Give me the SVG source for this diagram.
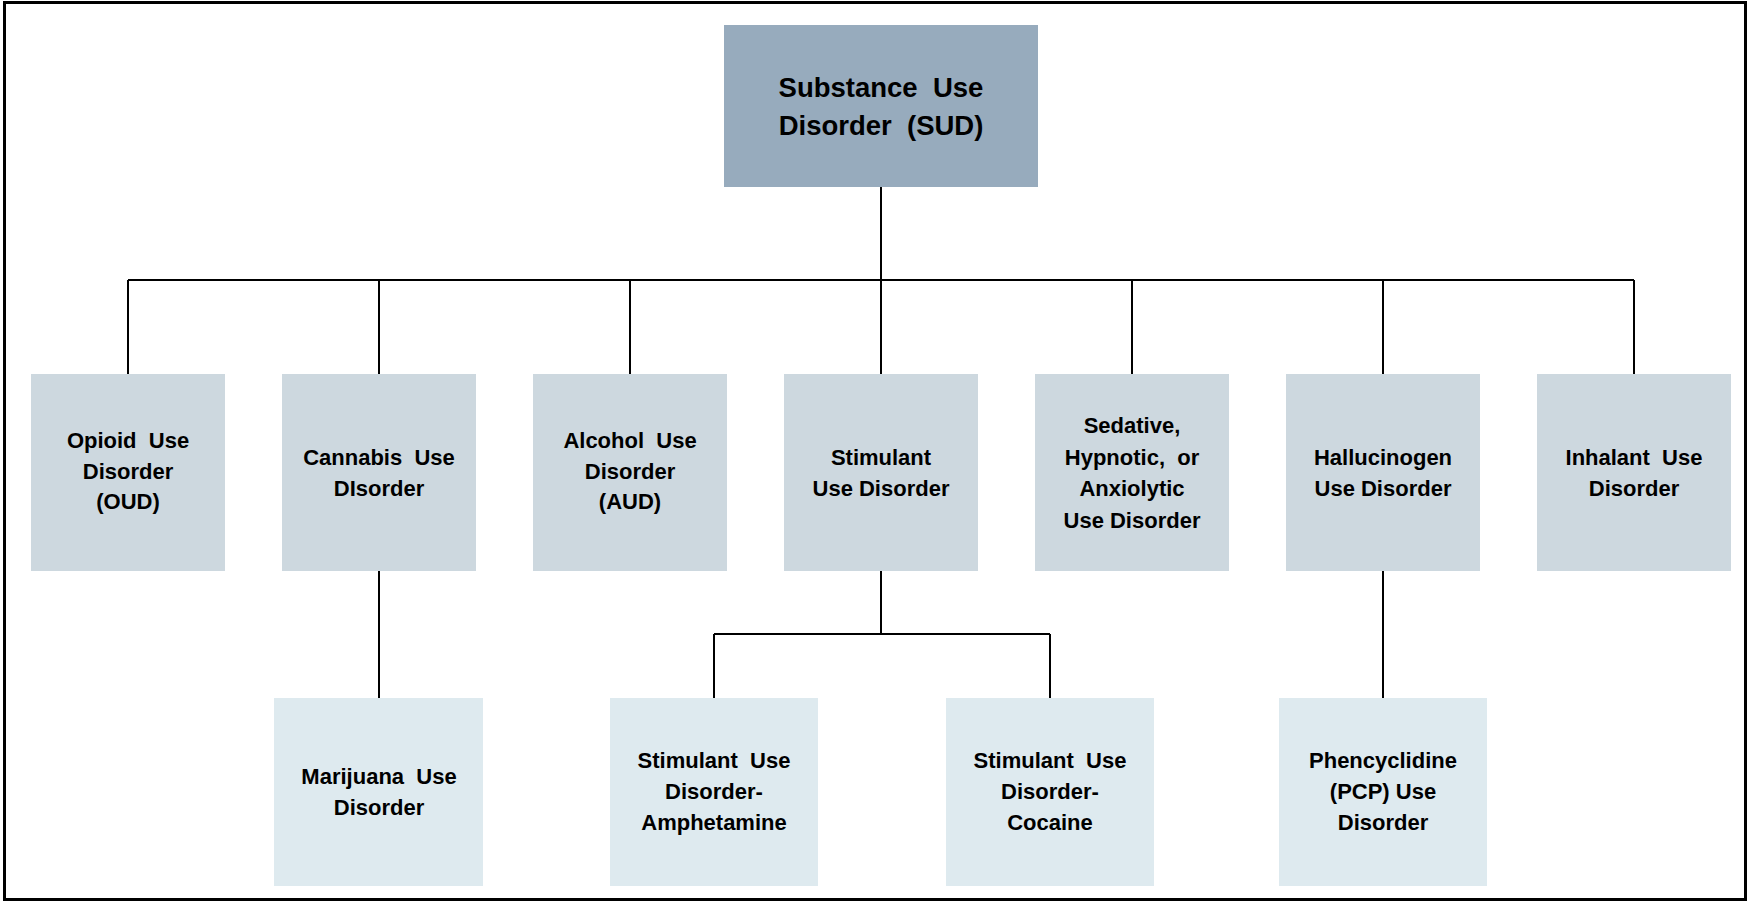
<svg xmlns="http://www.w3.org/2000/svg" width="1748" height="901" viewBox="0 0 1748 901">
<style>
.t{font-family:"Liberation Sans",Arial,sans-serif;font-weight:bold;fill:#000;text-anchor:middle;white-space:pre}
.l1{font-size:22px}
.top{font-size:27.5px}
.b0{fill:#97abbd}
.b1{fill:#cdd8df}
.b2{fill:#deeaef}
.c{stroke:#000;stroke-width:2;fill:none}
</style>
<rect x="0" y="0" width="1748" height="901" fill="#fff"/>
<rect x="4.5" y="2.5" width="1741" height="897" fill="none" stroke="#000" stroke-width="3"/>
<g id="connectors">
<path class="c" d="M881 187V280M128 280H1634M128 280V374M379 280V374M630 280V374M881 280V374M1132 280V374M1383 280V374M1634 280V374"/>
<path class="c" d="M379 571V698M1383 571V698M881 571V634M714 634H1050M714 634V698M1050 634V698"/>
</g>
<g id="sud"><rect class="b0" x="724" y="25" width="314" height="162"/>
<text class="t top" x="881" y="97"><tspan x="881">Substance  Use</tspan><tspan x="881" dy="38">Disorder  (SUD)</tspan></text></g>
<g id="oud"><rect class="b1" x="31" y="374" width="194" height="197"/>
<text class="t l1" x="128" y="448"><tspan x="128">Opioid  Use</tspan><tspan x="128" dy="30.5">Disorder</tspan><tspan x="128" dy="30.5">(OUD)</tspan></text></g>
<g id="cannabis"><rect class="b1" x="282" y="374" width="194" height="197"/>
<text class="t l1" x="379" y="465"><tspan x="379">Cannabis  Use</tspan><tspan x="379" dy="31">DIsorder</tspan></text></g>
<g id="aud"><rect class="b1" x="533" y="374" width="194" height="197"/>
<text class="t l1" x="630" y="448"><tspan x="630">Alcohol  Use</tspan><tspan x="630" dy="30.5">Disorder</tspan><tspan x="630" dy="30.5">(AUD)</tspan></text></g>
<g id="stimulant"><rect class="b1" x="784" y="374" width="194" height="197"/>
<text class="t l1" x="881" y="465"><tspan x="881">Stimulant</tspan><tspan x="881" dy="31">Use Disorder</tspan></text></g>
<g id="sedative"><rect class="b1" x="1035" y="374" width="194" height="197"/>
<text class="t l1" x="1132" y="433"><tspan x="1132">Sedative,</tspan><tspan x="1132" dy="31.5">Hypnotic,  or</tspan><tspan x="1132" dy="31.5">Anxiolytic</tspan><tspan x="1132" dy="31.5">Use Disorder</tspan></text></g>
<g id="hallucinogen"><rect class="b1" x="1286" y="374" width="194" height="197"/>
<text class="t l1" x="1383" y="465"><tspan x="1383">Hallucinogen</tspan><tspan x="1383" dy="31">Use Disorder</tspan></text></g>
<g id="inhalant"><rect class="b1" x="1537" y="374" width="194" height="197"/>
<text class="t l1" x="1634" y="465"><tspan x="1634">Inhalant  Use</tspan><tspan x="1634" dy="31">Disorder</tspan></text></g>
<g id="marijuana"><rect class="b2" x="274" y="698" width="209" height="188"/>
<text class="t l1" x="379" y="784"><tspan x="379">Marijuana  Use</tspan><tspan x="379" dy="31">Disorder</tspan></text></g>
<g id="amphetamine"><rect class="b2" x="610" y="698" width="208" height="188"/>
<text class="t l1" x="714" y="768"><tspan x="714">Stimulant  Use</tspan><tspan x="714" dy="31">Disorder-</tspan><tspan x="714" dy="31">Amphetamine</tspan></text></g>
<g id="cocaine"><rect class="b2" x="946" y="698" width="208" height="188"/>
<text class="t l1" x="1050" y="768"><tspan x="1050">Stimulant  Use</tspan><tspan x="1050" dy="31">Disorder-</tspan><tspan x="1050" dy="31">Cocaine</tspan></text></g>
<g id="pcp"><rect class="b2" x="1279" y="698" width="208" height="188"/>
<text class="t l1" x="1383" y="768"><tspan x="1383">Phencyclidine</tspan><tspan x="1383" dy="31">(PCP) Use</tspan><tspan x="1383" dy="31">Disorder</tspan></text></g>
</svg>
